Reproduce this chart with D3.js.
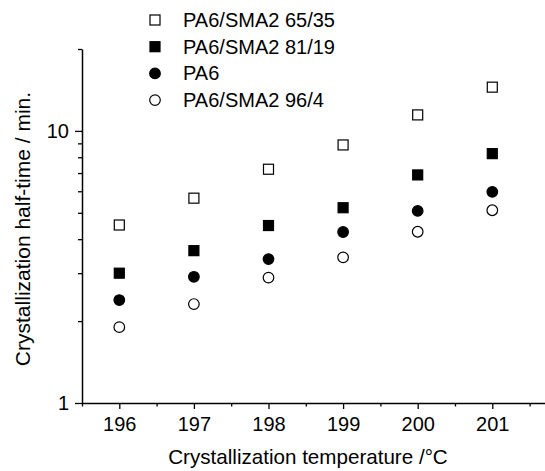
<!DOCTYPE html>
<html>
<head>
<meta charset="utf-8">
<script src="https://cdn.jsdelivr.net/npm/d3@7"></script>
<style>
  body { margin: 0; background: #fff; }
  svg text { font-family: "Liberation Sans", Arial, sans-serif; fill: #000; }
</style>
</head>
<body>
<div id="chart"></div>
<script>
// data
var temps = [196, 197, 198, 199, 200, 201];
var sma65 = [4.51, 5.66, 7.23, 8.88, 11.45, 14.48];
var sma81 = [3.0, 3.63, 4.49, 5.22, 6.89, 8.25];
var pa6   = [2.39, 2.91, 3.38, 4.25, 5.08, 5.97];
var sma96 = [1.90, 2.31, 2.89, 3.43, 4.26, 5.11];

var seriesNames = ["PA6/SMA2 65/35", "PA6/SMA2 81/19", "PA6", "PA6/SMA2 96/4"];
var seriesSymbols = ["square", "square", "circle", "circle"];
var seriesFilled = [false, true, true, false];
var seriesValues = [sma65, sma81, pa6, sma96];

var xMajor = [196, 197, 198, 199, 200, 201];
var xMinor = [195.5, 196.5, 197.5, 198.5, 199.5, 200.5, 201.5];
var yMajor = [1, 10];
var yMinor = [2, 3, 4, 5, 6, 7, 8, 9, 20];

var width = 545, height = 471;

var svg = d3.select("#chart")
  .append("svg")
    .attr("width", width)
    .attr("height", height);

// scales (x axis runs off the right edge as in the original)
var x = d3.scaleLinear()
  .domain([195.5, 201.72])
  .range([82, 546]);

var y = d3.scaleLog()
  .domain([1, 20])
  .range([403, 49]);

// x axis
svg.append("g")
  .attr("transform", "translate(0," + y(1) + ")")
  .call(d3.axisBottom(x).tickValues(xMinor).tickSize(3.5).tickFormat(""))
  .call(function(g) { g.select(".domain").remove(); })
  .selectAll("line").attr("stroke-width", 1.3);

var xAxis = svg.append("g")
  .attr("transform", "translate(0," + y(1) + ")")
  .call(d3.axisBottom(x).tickValues(xMajor).tickSize(6).tickSizeOuter(0).tickPadding(8).tickFormat(d3.format("d")));
xAxis.select(".domain").attr("stroke-width", 1.5);
xAxis.selectAll("line").attr("stroke-width", 1.3);
xAxis.selectAll("text").style("font-size", "20px");

// y axis
svg.append("g")
  .attr("transform", "translate(" + x(195.5) + ",0)")
  .call(d3.axisLeft(y).tickValues(yMinor).tickSize(4).tickFormat(""))
  .call(function(g) { g.select(".domain").remove(); })
  .selectAll("line").attr("stroke-width", 1.3);

var yAxis = svg.append("g")
  .attr("transform", "translate(" + x(195.5) + ",0)")
  .call(d3.axisLeft(y).tickValues(yMajor).tickSize(7).tickSizeOuter(0).tickPadding(6).tickFormat(d3.format("d")));
yAxis.select(".domain").attr("stroke-width", 1.5);
yAxis.selectAll("line").attr("stroke-width", 1.3);
yAxis.selectAll("text").style("font-size", "20px");

// axis titles
svg.append("text")
  .attr("x", 308)
  .attr("y", 464)
  .attr("text-anchor", "middle")
  .style("font-size", "20.6px")
  .text("Crystallization temperature /\u00B0C");

svg.append("text")
  .attr("transform", "translate(30,229) rotate(-90)")
  .attr("text-anchor", "middle")
  .style("font-size", "21px")
  .text("Crystallization half-time / min.");

// markers
function drawMarker(g, kind, filled, cx, cy) {
  if (kind === "square") {
    g.append("rect")
      .attr("x", cx - 5).attr("y", cy - 5)
      .attr("width", 10).attr("height", 10)
      .attr("fill", filled ? "#000" : "#fff")
      .attr("stroke", "#000")
      .attr("stroke-width", 1.2);
  } else {
    g.append("circle")
      .attr("cx", cx).attr("cy", cy)
      .attr("r", 5.3)
      .attr("fill", filled ? "#000" : "#fff")
      .attr("stroke", "#000")
      .attr("stroke-width", 1.2);
  }
}

var points = svg.append("g");
seriesValues.forEach(function(vals, i) {
  vals.forEach(function(v, j) {
    drawMarker(points, seriesSymbols[i], seriesFilled[i], x(temps[j]), y(v));
  });
});

// legend
var legend = svg.append("g");
seriesNames.forEach(function(name, i) {
  var ly = 20 + i * 26.7;
  drawMarker(legend, seriesSymbols[i], seriesFilled[i], 155, ly);
  legend.append("text")
    .attr("x", 183)
    .attr("y", ly + 7)
    .style("font-size", "20px")
    .text(name);
});
</script>
</body>
</html>
